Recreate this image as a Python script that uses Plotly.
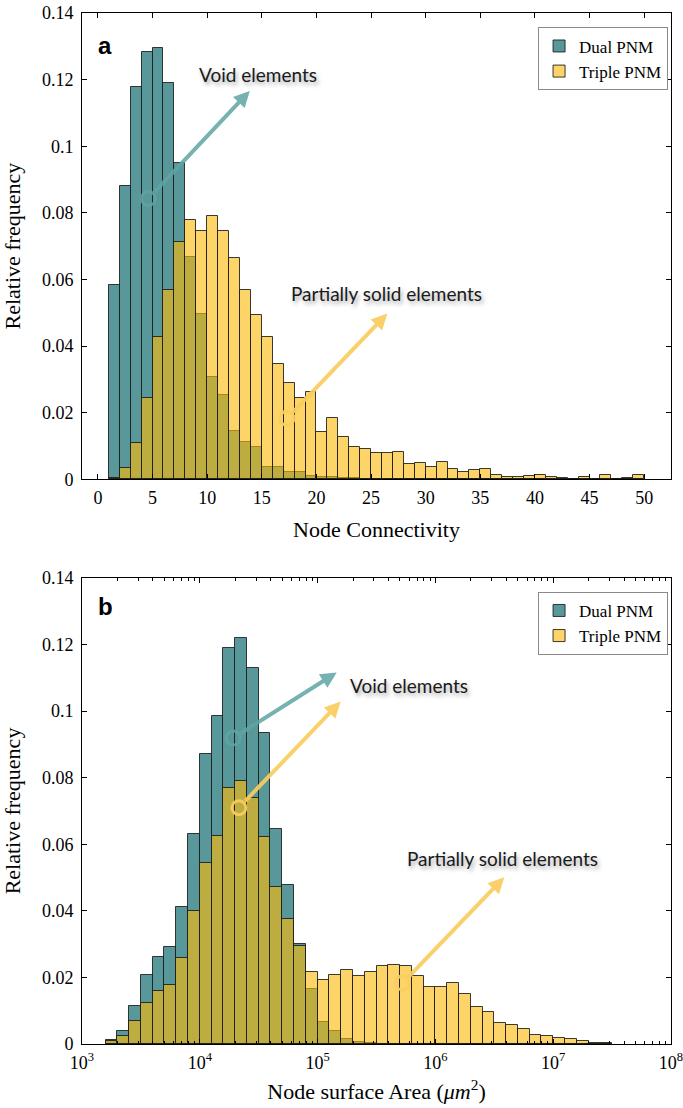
import numpy as np
import plotly.graph_objects as go

# ---------------- data ----------------
# Panel a: node connectivity histogram (bin left edges, width 1)
conn_bins = list(range(1, 50))
conn_dual = [0.0583, 0.0881, 0.1178, 0.1283, 0.1295, 0.1190, 0.0950, 0.0666, 0.0496, 0.0308,
             0.0253, 0.0145, 0.0111, 0.0096, 0.0038, 0.0038, 0.0021, 0.0022, 0.0010, 0.0008,
             0.0007, 0.0004, 0.0003, 0.0002, 0.0001, 0.0001, 0.0001, 0.0001, 0.0, 0.0,
             0.0, 0.0, 0.0, 0.0, 0.0, 0.0, 0.0, 0.0, 0.0, 0.0,
             0.0, 0.0, 0.0, 0.0, 0.0, 0.0, 0.0, 0.0, 0.0]
conn_triple = [0.0004, 0.0035, 0.0108, 0.0243, 0.0428, 0.0568, 0.0713, 0.0780, 0.0746, 0.0791,
               0.0745, 0.0665, 0.0568, 0.0493, 0.0426, 0.0345, 0.0288, 0.0245, 0.0261, 0.0143,
               0.0183, 0.0128, 0.0098, 0.0090, 0.0078, 0.0078, 0.0082, 0.0045, 0.0048, 0.0036,
               0.0052, 0.0032, 0.0023, 0.0029, 0.0030, 0.0013, 0.0008, 0.0008, 0.0010, 0.0012,
               0.0008, 0.0004, 0.0002, 0.0007, 0.0002, 0.0014, 0.0002, 0.0004, 0.0014]

# Panel b: node surface area histogram (bin left edges in log10(um^2), width 0.1 decade)
area_log_bins = [3.2, 3.3, 3.4, 3.5, 3.6, 3.7, 3.8, 3.9, 4.0, 4.1, 4.2, 4.3, 4.4, 4.5, 4.6,
                 4.7, 4.8, 4.9, 5.0, 5.1, 5.2, 5.3, 5.4, 5.5, 5.6, 5.7, 5.8, 5.9, 6.0, 6.1,
                 6.2, 6.3, 6.4, 6.5, 6.6, 6.7, 6.8, 6.9, 7.0, 7.1, 7.2, 7.3, 7.4]
area_dual = [0.0013, 0.0040, 0.0115, 0.0206, 0.0260, 0.0291, 0.0411, 0.0630, 0.0871, 0.0986,
             0.1189, 0.1219, 0.1129, 0.0935, 0.0645, 0.0478, 0.0301, 0.0165, 0.0066, 0.0038,
             0.0016, 0.0005, 0.0003, 0.0001, 0.0001, 0.0, 0.0, 0.0, 0.0, 0.0,
             0.0, 0.0, 0.0, 0.0, 0.0, 0.0, 0.0, 0.0, 0.0, 0.0, 0.0, 0.0, 0.0]
area_triple = [0.0009, 0.0023, 0.0068, 0.0123, 0.0160, 0.0178, 0.0258, 0.0400, 0.0543, 0.0625,
               0.0769, 0.0790, 0.0740, 0.0621, 0.0471, 0.0375, 0.0295, 0.0216, 0.0191, 0.0208,
               0.0221, 0.0203, 0.0216, 0.0233, 0.0237, 0.0235, 0.0205, 0.0171, 0.0170, 0.0183,
               0.0151, 0.0111, 0.0095, 0.0063, 0.0056, 0.0046, 0.0028, 0.0025, 0.0018, 0.0015,
               0.0008, 0.0003, 0.0002]

y_ticks = [0, 0.02, 0.04, 0.06, 0.08, 0.1, 0.12, 0.14]
y_ticklabels = ["0", "0.02", "0.04", "0.06", "0.08", "0.1", "0.12", "0.14"]
conn_ticks = [0, 5, 10, 15, 20, 25, 30, 35, 40, 45, 50]
area_decades = [3, 4, 5, 6, 7, 8]

# ---------------- styles ----------------
TEAL = "rgb(88,152,154)"
YELLOW = "rgba(251,185,10,0.62)"
EDGE = "rgba(25,25,25,0.85)"
SERIF = "Liberation Serif"

fig = go.Figure()

conn_w = 1.0
fig.add_trace(go.Bar(x=[b + conn_w / 2 for b in conn_bins], y=conn_dual, width=conn_w,
                     name="Dual PNM", marker=dict(color=TEAL, line=dict(color=EDGE, width=1)),
                     xaxis="x", yaxis="y", legend="legend"))
fig.add_trace(go.Bar(x=[b + conn_w / 2 for b in conn_bins], y=conn_triple, width=conn_w,
                     name="Triple PNM", marker=dict(color=YELLOW, line=dict(color=EDGE, width=1)),
                     xaxis="x", yaxis="y", legend="legend"))

area_w = 0.1
fig.add_trace(go.Bar(x=[b + area_w / 2 for b in area_log_bins], y=area_dual, width=area_w,
                     name="Dual PNM", marker=dict(color=TEAL, line=dict(color=EDGE, width=1)),
                     xaxis="x2", yaxis="y2", legend="legend2"))
fig.add_trace(go.Bar(x=[b + area_w / 2 for b in area_log_bins], y=area_triple, width=area_w,
                     name="Triple PNM", marker=dict(color=YELLOW, line=dict(color=EDGE, width=1)),
                     xaxis="x2", yaxis="y2", legend="legend2"))

# ---------------- annotation arrows (circle tail -> arrow head) ----------------
TEAL_ARROW = "rgba(95,165,165,0.85)"
YEL_ARROW = "rgba(250,205,95,0.92)"
arrows = [
    # (xref, yref, tail_x, tail_y, head_x, head_y, colour)
    ("x", "y", 4.62, 0.0843, 13.9, 0.1166, TEAL_ARROW),
    ("x", "y", 17.3, 0.0183, 26.5, 0.0498, YEL_ARROW),
    ("x2", "y2", 4.284, 0.0919, 5.162, 0.1116, TEAL_ARROW),
    ("x2", "y2", 4.332, 0.0710, 5.196, 0.1029, YEL_ARROW),
    ("x2", "y2", 5.721, 0.0183, 6.585, 0.0501, YEL_ARROW),
]
annotations = []
for xr, yr, tx, ty, hx, hy, col in arrows:
    annotations.append(dict(x=hx, y=hy, ax=tx, ay=ty, xref=xr, yref=yr, axref=xr, ayref=yr,
                            showarrow=True, arrowhead=2, arrowsize=0.8, arrowwidth=4,
                            arrowcolor=col, startstandoff=7, text=""))
    fig.add_trace(go.Scatter(x=[tx], y=[ty], mode="markers", showlegend=False, hoverinfo="skip",
                             xaxis=xr, yaxis=yr,
                             marker=dict(symbol="circle-open", size=14, color=col,
                                         line=dict(width=3, color=col))))

SHADOW = "2px 3px 4px rgba(0,0,0,0.35)"
labels = [
    ("x", "y", 14.67, 0.1216, "Void elements"),
    ("x", "y", 26.44, 0.0558, "Partially solid elements"),
    ("x2", "y2", 5.775, 0.1076, "Void elements"),
    ("x2", "y2", 6.571, 0.0558, "Partially solid elements"),
]
for xr, yr, x, y, t in labels:
    annotations.append(dict(x=x, y=y, xref=xr, yref=yr, text=t, showarrow=False,
                            font=dict(family="Lato", size=19, color="#1a1a1a", shadow=SHADOW)))

annotations.append(dict(x=0.0395, y=0.931, xref="x domain", yref="y domain", text="<b>a</b>",
                        xanchor="center", yanchor="middle",
                        showarrow=False, font=dict(family="Liberation Sans", size=24, color="black")))
annotations.append(dict(x=0.0404, y=0.9385, xref="x2 domain", yref="y2 domain", text="<b>b</b>",
                        xanchor="center", yanchor="middle",
                        showarrow=False, font=dict(family="Liberation Sans", size=24, color="black")))

minor_vals = [np.log10(k * 10 ** n) for n in range(3, 8) for k in range(2, 10)]

axis_common = dict(showline=True, linecolor="black", linewidth=1, mirror="ticks",
                   ticks="inside", ticklen=5, tickcolor="black", showgrid=False, zeroline=False,
                   automargin=False, ticklabeloverflow="allow",
                   tickfont=dict(family=SERIF, size=18, color="black"))

legend_common = dict(bgcolor="white", bordercolor="#8a8a8a", borderwidth=1,
                     font=dict(family=SERIF, size=17, color="black"),
                     xanchor="right", yanchor="top", itemwidth=30, tracegroupgap=0)

TITLE_FONT = dict(family=SERIF, size=22, color="black")

fig.update_layout(
    width=683, height=1108,
    margin=dict(l=82, r=12, t=12.7, b=63.7, autoexpand=False),
    plot_bgcolor="white", paper_bgcolor="white",
    barmode="overlay", bargap=0,
    annotations=annotations,
    xaxis=dict(domain=[0, 1], anchor="y", range=[-1.46, 52.46], tickvals=conn_ticks,
               ticklabelstandoff=2,
               title=dict(text="Node Connectivity", font=TITLE_FONT, standoff=14),
               **axis_common),
    yaxis=dict(domain=[0.5477, 1], anchor="x", range=[0, 0.14], tickvals=y_ticks,
               ticktext=y_ticklabels, ticklabelstandoff=4,
               title=dict(text="Relative frequency", font=TITLE_FONT, standoff=16),
               **axis_common),
    xaxis2=dict(domain=[0, 1], anchor="y2", range=[3, 8], tickvals=area_decades,
                ticktext=[f"10<sup>{d}</sup>" for d in area_decades], ticklabelstandoff=2,
                minor=dict(tickvals=minor_vals, ticks="inside", ticklen=3, tickcolor="black"),
                title=dict(text="Node surface Area (<i>μm</i><sup>2</sup>)",
                           font=TITLE_FONT, standoff=12),
                **axis_common),
    yaxis2=dict(domain=[0, 0.452], anchor="x2", range=[0, 0.14], tickvals=y_ticks,
                ticktext=y_ticklabels, ticklabelstandoff=4,
                title=dict(text="Relative frequency", font=TITLE_FONT, standoff=16),
                **axis_common),
    legend=dict(x=0.995, y=0.986, **legend_common),
    legend2=dict(x=0.995, y=0.4385, **legend_common),
)

# remove the default 8 px page margin so the figure fills the window exactly
fig.write_html("out.html", config={"displayModeBar": False},
               post_script="document.body.style.margin='0';document.body.style.overflow='hidden';")
